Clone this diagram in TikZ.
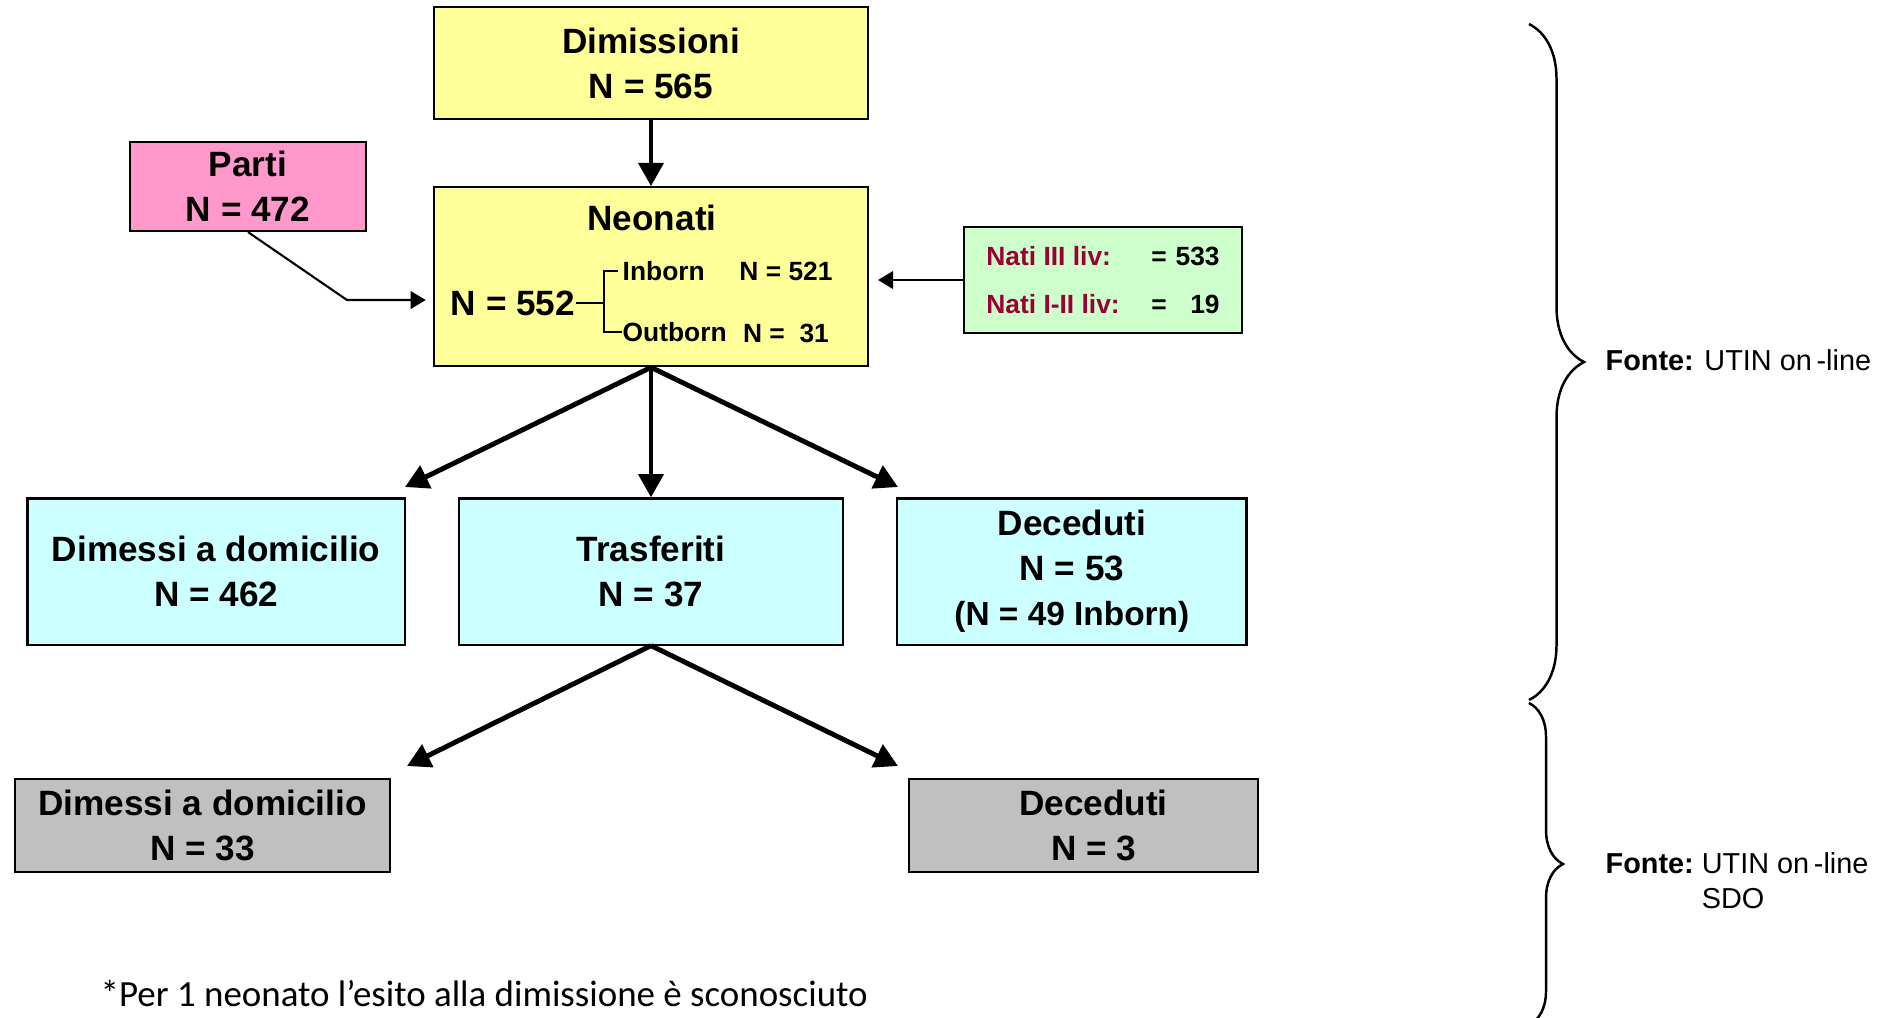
\documentclass[tikz,border=0pt]{standalone}
\usepackage{fontspec}
\setmainfont{Liberation Sans}
\newfontfamily\notefont{Carlito}
\usepackage{tikz}
\usetikzlibrary{positioning,arrows.meta,decorations.pathreplacing}
\definecolor{yellowbox}{HTML}{FFFF99}
\definecolor{pinkbox}{HTML}{FF99CC}
\definecolor{greenbox}{HTML}{CCFFCC}
\definecolor{cyanbox}{HTML}{CCFFFF}
\definecolor{greybox}{HTML}{C0C0C0}
\definecolor{livred}{HTML}{990033}

\begin{document}
\begin{tikzpicture}[
  x=0.01cm, y=-0.01cm,
  box/.style={draw, line width=0.6pt, align=center, inner sep=0pt,
              font=\fontsize{10}{12.8}\selectfont\bfseries},
  small/.style={inner sep=0pt, font=\fontsize{7.5}{9}\selectfont\bfseries},
  src/.style={inner sep=0pt, anchor=base west, font=\fontsize{8.2}{10.2}\selectfont},
  arr/.style={-{Triangle[length=6.6pt,width=7pt]}, line width=1.4pt},
  thinarr/.style={-{Triangle[length=4.3pt,width=5pt]}, line width=0.6pt},
  curly/.style={decorate, decoration={brace, amplitude=#1}, line width=0.7pt}
]
  \useasboundingbox (0,0) rectangle (1900,1017);

  \node[box, fill=yellowbox, minimum width=4.34cm, minimum height=1.12cm] (dim)
    at (651,63) {Dimissioni\\N = 565};
  \node[box, fill=yellowbox, minimum width=4.34cm, minimum height=1.79cm,
        below=0.66cm of dim] (neo) {};
  \node[box, draw=none] (neotitle) at (652,218) {Neonati};
  \node[box, draw=none] (ntot) at (513,303) {N = 552};
  \node[small, anchor=west] (inb) at (622,271) {Inborn};
  \node[small] (inbn) at (786,271) {N = 521};
  \node[small, anchor=west] (outb) at (622,332) {Outborn};
  \node[small] (outbn) at (786,333) {N =\ \ 31};

  \node[box, fill=pinkbox, minimum width=2.36cm, minimum height=0.89cm] (parti)
    at (248,186.5) {Parti\\N = 472};
  \node[box, fill=greenbox, minimum width=2.78cm, minimum height=1.06cm] (liv)
    at (1103,280) {\fontsize{7.5}{13.7}\selectfont
    \begin{tabular}{@{}l@{\hspace{9pt}}l@{\hspace{2.5pt}}r@{}}
      \textcolor{livred}{Nati III liv:} & = & 533\\
      \textcolor{livred}{Nati I-II liv:} & = & 19
    \end{tabular}};

  \node[box, fill=cyanbox, minimum width=3.84cm, minimum height=1.46cm,
        below=1.30cm of neo] (trasf) {Trasferiti\\N = 37};
  \node[box, fill=cyanbox, minimum width=3.77cm, minimum height=1.46cm,
        left=0.52cm of trasf] (home) {Dimessi a domicilio\\N = 462};
  \node[box, fill=cyanbox, minimum width=3.49cm, minimum height=1.46cm,
        right=0.52cm of trasf] (dead)
    {Deceduti\\N = 53\\{\fontsize{9.5}{12.8}\selectfont(N = 49 Inborn)}};

  \node[box, fill=greybox, minimum width=3.75cm, minimum height=0.93cm] (home2)
    at (202.5,825.5) {Dimessi a domicilio\\N = 33};
  \node[box, fill=greybox, minimum width=3.49cm, minimum height=0.93cm] (dead2)
    at (1083.5,825.5) {\hspace*{0.2cm}Deceduti\\\hspace*{0.2cm}N = 3};

  \draw[line width=0.6pt] (ntot.east) -- ++(28,0) coordinate (fork);
  \draw[line width=0.6pt, shorten <=1pt] (inb.west) -- (inb.west -| fork)
    -- (outb.west -| fork) -- (outb.west);

  \coordinate (pbend) at (347,300);
  \coordinate (tipl) at (405,487);
  \coordinate (tipr) at (898,487);
  \coordinate (tipl2) at (407,766);
  \coordinate (tipr2) at (898,766);

  \draw[arr] (dim) -- (neo);
  \draw[arr] (neo.south) -- (trasf.north);
  \draw[arr] (neo.south) -- (tipl);
  \draw[arr] (neo.south) -- (tipr);
  \draw[arr] (trasf.south) -- (tipl2);
  \draw[arr] (trasf.south) -- (tipr2);
  \draw[thinarr, shorten >=2pt] (parti.south) -- (pbend) -- (pbend -| neo.west);
  \draw[thinarr, shorten >=2.5pt] (liv.west) -- (liv.west -| neo.east);

  \draw[curly=5.5mm] (1529,24) -- (1529,700);
  \draw[curly=3.4mm] (1529,703) -- (1529,1025);
  \node[src] (src1) at (1605,370) {\textbf{Fonte:} UTIN on\,-line};
  \node[src] (src2) at (1605,873)
    {\begin{tabular}[t]{@{}l@{\ }l@{}}\textbf{Fonte:} & UTIN on\,-line\\ & SDO\end{tabular}};

  \node[anchor=base west, inner sep=0pt, font=\notefont\fontsize{10.5}{12}\selectfont] (note)
    at (100,1006) {*Per 1 neonato l’esito alla dimissione è sconosciuto};
\end{tikzpicture}
\end{document}
